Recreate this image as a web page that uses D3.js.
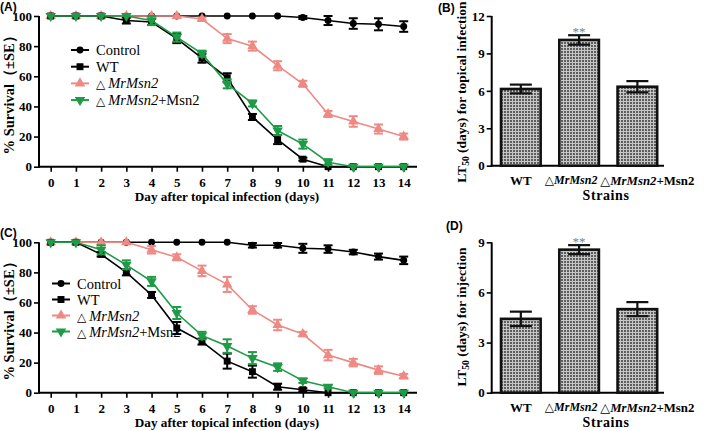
<!DOCTYPE html>
<html><head><meta charset="utf-8">
<script src="https://cdn.jsdelivr.net/npm/d3@7"></script>
<style>body{margin:0;background:#fff}svg{display:block}
svg text{font-family:"Liberation Serif","Times New Roman","DejaVu Serif",serif}
svg text.sans{font-family:"Liberation Sans",Arial,sans-serif}
</style>
</head><body>
<svg id="c" width="709" height="431"></svg>
<script>
// ---- data ----
const days = [0,1,2,3,4,5,6,7,8,9,10,11,12,13,14];
const seriesNames = ["Control","WT","ΔMrMsn2","ΔMrMsn2+Msn2"];
// Panel A (topical infection)
const A_control = [100,100,100,100,100,100,100,100,100,100,99,97,95,94.5,93];
const A_controlSE = [0,0,0,0,0,0,0,0,0,0,1,3,3.5,4,3.5];
const A_wt = [100,100,100,97,96,85,72,59,33,18,5,0,0,0,0];
const A_wtSE = [0,0,0,2,2,3,3,3,2,3,1,0,0,0,0];
const A_mut = [100,100,100,100,100,100,98,85,80,67,55,35,30,25,20];
const A_mutSE = [0,0,0,0,0,0,1,3,3,3,2,2,3.5,3,2];
const A_comp = [100,100,100,100,97,86,75,55,42,24,15,3,0,0,0];
const A_compSE = [0,0,0,0,3,3,2,3,2,3,3,2,0,0,0];
// Panel C (injection)
const C_control = [100,100,100,100,100,100,100,100,98,98,96,95.5,93.5,90.5,88];
const C_controlSE = [0,0,0,0,0,0,0,0,1.5,1.5,3,2.5,1.5,2,2.5];
const C_wt = [100,100,92,80,65,43,34,21,14,4,2,0,0,0,0];
const C_wtSE = [0,0,1.5,2,2,4,2,5,4,2,1,0,0,0,0];
const C_mut = [100,100,100,100,95,90,81,72,55,45,39,25,20,15,11];
const C_mutSE = [0,0,0,0,2.5,2,3.5,5,2.5,3.5,1.5,3.5,2.5,2.5,1.5];
const C_comp = [100,100,95,85,74,53,38,31,23,17,8,4,0,0,0];
const C_compSE = [0,0,3,3,3,4,2.5,4.5,4,2.5,1.5,1,0,0,0];
// Panels B, D (LT50)
const strains = ["WT","ΔMrMsn2","ΔMrMsn2+Msn2"];
const B_lt50 = [6.15,10.08,6.33];
const B_se = [0.35,0.38,0.45];
const D_lt50 = [4.42,8.56,5.0];
const D_se = [0.43,0.27,0.42];
const survTicks = [0,20,40,60,80,100];
const B_ticks = [0,3,6,9,12];
const D_ticks = [0,3,6,9];

// ---- drawing ----
const svg = d3.select("#c");
const PINK = "#EF8984", GREEN = "#1F9A46";

const defs = svg.append("defs");
const pat = defs.append("pattern").attr("id","hatch").attr("patternUnits","userSpaceOnUse")
  .attr("width",3).attr("height",3);
pat.append("rect").attr("width",3).attr("height",3).attr("fill","#c6c6c6");
pat.append("rect").attr("width",2).attr("height",2).attr("fill","#5e5e5e");

function styleAxis(g){
  g.attr("font-family",null);
  g.selectAll("path.domain").remove();
  g.selectAll("line").attr("stroke","#000").attr("stroke-width",1.6);
  g.selectAll("text").attr("font-weight","bold").attr("font-size",13).attr("fill","#000");
}

// label placement in the reference is not centred under every bar
const labelFit = {"WT":{dx:0,anchor:"middle",size:13},
                  "ΔMrMsn2":{dx:-8,anchor:"middle",size:12},
                  "ΔMrMsn2+Msn2":{dx:-37,anchor:"start",size:12.8}};
function strainLabel(sel, name){
  sel.text(null);
  const f = labelFit[name];
  sel.attr("text-anchor",f.anchor).attr("x",f.dx).attr("font-size",f.size);
  if(name==="WT"){ sel.append("tspan").text("WT"); return; }
  sel.append("tspan").text("△");
  sel.append("tspan").attr("font-style","italic").text("MrMsn2");
  if(name.endsWith("+Msn2")) sel.append("tspan").text("+Msn2");
}

function linePanel(o){
  const x = d3.scaleLinear().domain([0,14]).range([50.7,403.7]);
  const y = d3.scaleLinear().domain([0,100]).range([o.bottom,o.top]);
  const g = svg.append("g");
  const ya = g.append("g").attr("transform","translate(39,0)")
    .call(d3.axisLeft(y).tickValues(survTicks).tickSize(5).tickPadding(2));
  styleAxis(ya);
  const xa = g.append("g").attr("transform",`translate(0,${o.bottom})`)
    .call(d3.axisBottom(x).tickValues(days).tickSize(5).tickPadding(6));
  styleAxis(xa);
  g.append("line").attr("x1",39).attr("x2",39).attr("y1",o.top).attr("y2",o.bottom+1)
    .attr("stroke","#000").attr("stroke-width",2);
  g.append("line").attr("x1",38).attr("x2",417).attr("y1",o.bottom).attr("y2",o.bottom)
    .attr("stroke","#000").attr("stroke-width",2);
  g.append("text").attr("x",227).attr("y",o.bottom+34).attr("text-anchor","middle")
    .attr("font-weight","bold").attr("font-size",13.2)
    .text("Day after topical infection (days)");
  g.append("text").attr("transform",`translate(14,${(o.top+o.bottom)/2}) rotate(-90)`)
    .attr("text-anchor","middle").attr("font-weight","bold").attr("font-size",14.5)
    .text("% Survival（±SE）");
  g.append("text").attr("class","sans").attr("x",0).attr("y",o.top-5)
    .attr("font-weight","bold").attr("font-size",12).text(o.label);

  const defsS = [
    {vals:o.control, se:o.controlSE, color:"#000", sym:d3.symbolCircle, size:38, rot:0},
    {vals:o.wt, se:o.wtSE, color:"#000", sym:d3.symbolSquare, size:48, rot:0},
    {vals:o.mut, se:o.mutSE, color:PINK, sym:d3.symbolTriangle, size:48, rot:0},
    {vals:o.comp, se:o.compSE, color:GREEN, sym:d3.symbolTriangle, size:48, rot:180}
  ];
  const line = d3.line().x((d,i)=>x(days[i])).y(d=>y(d));
  [0,2,1,3].forEach(k=>{
    const s = defsS[k];
    const sg = g.append("g");
    sg.append("path").attr("d",line(s.vals)).attr("fill","none").attr("stroke",s.color).attr("stroke-width",1.6);
    s.vals.forEach((v,i)=>{
      const e = s.se[i];
      if(e>0){
        const cx = x(days[i]);
        sg.append("line").attr("x1",cx).attr("x2",cx).attr("y1",y(v+e)).attr("y2",y(v-e)).attr("stroke",s.color).attr("stroke-width",2);
        [v+e,v-e].forEach(w=>sg.append("line").attr("x1",cx-4.5).attr("x2",cx+4.5).attr("y1",y(w)).attr("y2",y(w)).attr("stroke",s.color).attr("stroke-width",2));
      }
      sg.append("path").attr("d",d3.symbol().type(s.sym).size(s.size)())
        .attr("transform",`translate(${x(days[i])},${y(v)}) rotate(${s.rot})`).attr("fill",s.color);
    });
  });
  defsS.forEach((s,k)=>{
    const ly = o.legY + k*o.legStep;
    g.append("line").attr("x1",o.legX).attr("x2",o.legX+18).attr("y1",ly).attr("y2",ly).attr("stroke",s.color).attr("stroke-width",2);
    g.append("path").attr("d",d3.symbol().type(s.sym).size(s.size)())
      .attr("transform",`translate(${o.legX+9},${ly}) rotate(${s.rot})`).attr("fill",s.color);
    const t = g.append("text").attr("x",o.legX+25).attr("y",ly+5).attr("font-size",14.5);
    const nm = seriesNames[k];
    if(nm.startsWith("Δ")){
      t.append("tspan").attr("font-size",12).text("△ ");
      t.append("tspan").attr("font-style","italic").text("MrMsn2");
      if(nm.endsWith("+Msn2")) t.append("tspan").text("+Msn2");
    } else t.text(nm);
  });
}

function barPanel(o){
  const x = d3.scaleBand().domain(strains).range([491.7,666.5]).paddingInner(0.32).paddingOuter(0.16);
  const y = d3.scaleLinear().domain([0,o.max]).range([o.bottom,o.top]);
  const g = svg.append("g");
  const ya = g.append("g").attr("transform","translate(491.7,0)")
    .call(d3.axisLeft(y).tickValues(o.ticks).tickSize(5).tickPadding(2));
  styleAxis(ya);
  const xa = g.append("g").attr("transform",`translate(0,${o.bottom})`)
    .call(d3.axisBottom(x).tickSize(0).tickPadding(10));
  styleAxis(xa);
  xa.selectAll(".tick text").each(function(d){ strainLabel(d3.select(this), d); });
  g.append("line").attr("x1",491.7).attr("x2",491.7).attr("y1",o.top).attr("y2",o.bottom+1).attr("stroke","#000").attr("stroke-width",2);
  g.append("line").attr("x1",490.7).attr("x2",664).attr("y1",o.bottom).attr("y2",o.bottom).attr("stroke","#000").attr("stroke-width",2);
  o.vals.forEach((v,i)=>{
    const bx = x(strains[i]), bw = x.bandwidth(), cx = bx+bw/2;
    g.append("rect").attr("x",bx).attr("y",y(v)).attr("width",bw).attr("height",y(0)-y(v))
      .attr("fill","url(#hatch)").attr("stroke","#111").attr("stroke-width",2.6);
    const e = o.se[i];
    g.append("line").attr("x1",cx).attr("x2",cx).attr("y1",y(v+e)).attr("y2",y(v-e)).attr("stroke","#111").attr("stroke-width",2.2);
    [v+e,v-e].forEach(w=>g.append("line").attr("x1",cx-11).attr("x2",cx+11).attr("y1",y(w)).attr("y2",y(w)).attr("stroke","#111").attr("stroke-width",2.2));
    if(i===1) g.append("text").attr("x",cx).attr("y",y(v+e)+1).attr("text-anchor","middle")
      .attr("font-size",13).attr("fill","#808080").text("**");
  });
  g.append("text").attr("x",606).attr("y",o.bottom+34).attr("text-anchor","middle")
    .attr("font-weight","bold").attr("font-size",14).attr("letter-spacing",0.6).text("Strains");
  const t = g.append("text").attr("transform",`translate(466,${o.titleY}) rotate(-90)`)
    .attr("text-anchor","middle").attr("font-weight","bold").attr("font-size",13.5);
  t.append("tspan").text("LT");
  t.append("tspan").attr("font-size",9.5).attr("dy",3).text("50");
  t.append("tspan").attr("dy",-3).text(" (days) for "+o.ytext);
  g.append("text").attr("class","sans").attr("x",o.labX).attr("y",o.labY)
    .attr("font-weight","bold").attr("font-size",12).text(o.label);
}

linePanel({top:16, bottom:166.7, label:"(A)", control:A_control, controlSE:A_controlSE, wt:A_wt, wtSE:A_wtSE,
  mut:A_mut, mutSE:A_mutSE, comp:A_comp, compSE:A_compSE, legX:71, legY:50, legStep:16.7});
linePanel({top:242.3, bottom:392.7, label:"(C)", control:C_control, controlSE:C_controlSE, wt:C_wt, wtSE:C_wtSE,
  mut:C_mut, mutSE:C_mutSE, comp:C_comp, compSE:C_compSE, legX:52, legY:283.5, legStep:16});
barPanel({top:16, bottom:165.7, max:12, ticks:B_ticks, vals:B_lt50, se:B_se, ytext:"topical infection", titleY:92, label:"(B)", labX:438, labY:12});
barPanel({top:242.3, bottom:392.7, max:9, ticks:D_ticks, vals:D_lt50, se:D_se, ytext:"injection", titleY:317, label:"(D)", labX:446, labY:230});
</script>
</body></html>
